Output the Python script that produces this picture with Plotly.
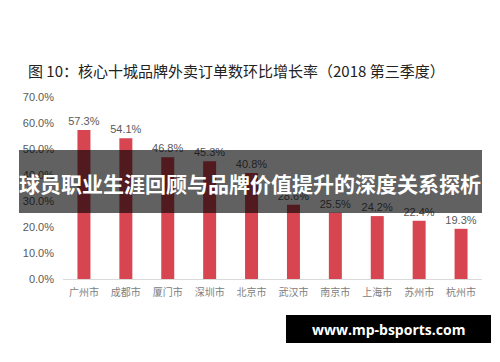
import plotly.graph_objects as go

cities = ["广州市", "成都市", "厦门市", "深圳市", "北京市", "武汉市", "南京市", "上海市", "苏州市", "杭州市"]
growth = [57.3, 54.1, 46.8, 45.3, 40.8, 28.6, 25.5, 24.2, 22.4, 19.3]
y_ticks = [0, 10, 20, 30, 40, 50, 60, 70]
title_text = "图 10：核心十城品牌外卖订单数环比增长率（2018 第三季度）"
banner_text = "球员职业生涯回顾与品牌价值提升的深度关系探析"
site_text = "www.mp-bsports.com"

W, H = 500, 362
L, R, T, B = 63, 18, 97, 83
pw, ph = W - L - R, H - T - B

def px(x):
    return (x - L) / pw

def py(y):
    return (H - B - y) / ph

fig = go.Figure()
fig.add_trace(go.Bar(
    x=cities, y=growth,
    marker=dict(color="#d64550", line=dict(width=0)),
    text=[f"{v:.1f}%" for v in growth],
    textposition="outside",
    constraintext="none",
    textfont=dict(family="Liberation Sans, Arial", size=11, color="#595959"),
    cliponaxis=False,
    hoverinfo="skip",
))

fig.update_layout(
    width=W, height=H,
    margin=dict(l=L, r=R, t=T, b=B),
    paper_bgcolor="white", plot_bgcolor="white",
    bargap=0.69,
    showlegend=False,
    title=dict(text=title_text, x=28 / W, xref="container", xanchor="left",
               y=1 - 72 / H, yref="container", yanchor="middle",
               font=dict(family="Noto Sans CJK SC", size=15, color="#222222")),
    xaxis=dict(showgrid=False, showline=True, linecolor="#d9d9d9", linewidth=1,
               ticks="", tickfont=dict(family="Noto Sans CJK SC", size=10, color="#808080"),
               ticklabelstandoff=4),
    yaxis=dict(range=[0, 70], tickvals=y_ticks,
               ticktext=[f"{v:.1f}%" for v in y_ticks],
               showgrid=False, showline=False, zeroline=False, ticks="",
               ticklabelstandoff=8,
               tickfont=dict(family="Liberation Sans, Arial", size=11, color="#595959")),
    shapes=[
        dict(type="rect", xref="paper", yref="paper", layer="above",
             x0=px(19), x1=px(482), y0=py(213), y1=py(150),
             fillcolor="rgba(0,0,0,0.62)", line=dict(width=0)),
        dict(type="rect", xref="paper", yref="paper", layer="above",
             x0=px(286), x1=px(491), y0=py(343), y1=py(315),
             fillcolor="black", line=dict(width=0)),
    ],
    annotations=[
        dict(text=banner_text, xref="paper", yref="paper", x=px(250), y=py(183),
             showarrow=False, xanchor="center", yanchor="middle",
             font=dict(family="Noto Sans CJK SC", size=21, color="white", weight="bold")),
        dict(text=site_text, xref="paper", yref="paper", x=px(388), y=py(329),
             showarrow=False, xanchor="center", yanchor="middle",
             font=dict(family="Open Sans, DejaVu Sans", size=14, color="white", weight="bold")),
    ],
)

fig.write_html("out.html", config={"displayModeBar": False},
               post_script="document.body.style.margin='0';")
